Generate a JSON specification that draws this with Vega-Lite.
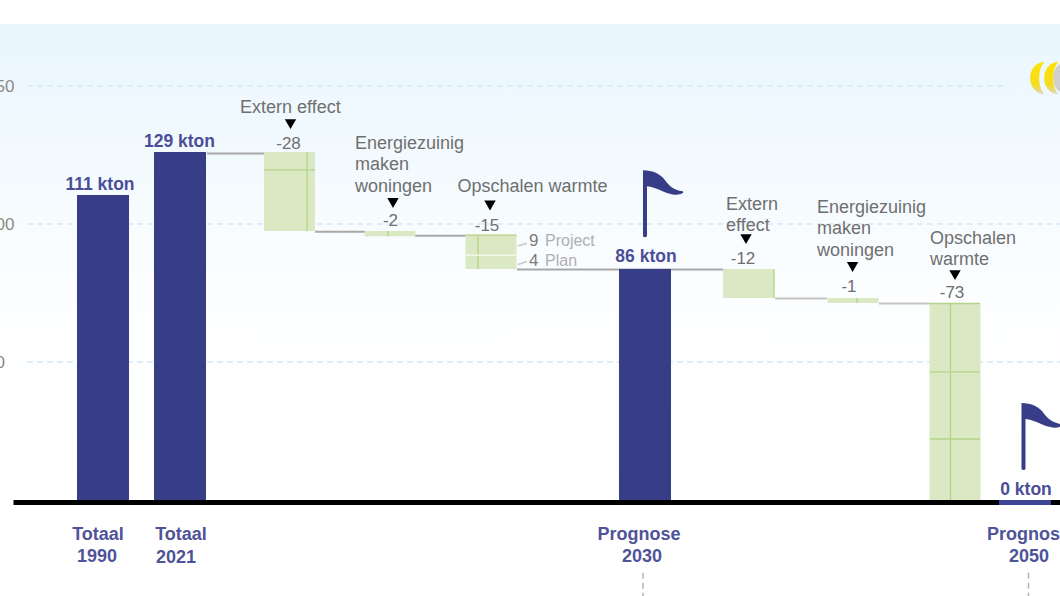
{
"$schema":"https://vega.github.io/schema/vega-lite/v6.json",
"width":1060,"height":596,"padding":0,"autosize":{"type":"none"},
"background":"#ffffff",
"config":{"view":{"stroke":null},"text":{"font":"Liberation Sans"}},
"datasets":{
"panel":[{"slot":0,"slot2":10.6,"val":172.5,"val2":0}],
"grid":[{"slot":0.27,"slot2":10.05,"val":150},{"slot":0.27,"slot2":10.6,"val":100},{"slot":0.27,"slot2":10.6,"val":50}],
"ticks":[{"slot":0.145,"val":150,"label":"150"},{"slot":0.145,"val":100,"label":"100"},{"slot":0.05,"val":50,"label":"50"}],
"totals":[{"slot":1.03,"val":110.5,"val2":0,"name":"Totaal 1990"},{"slot":1.80,"val":126.1,"val2":0,"name":"Totaal 2021"},{"slot":6.45,"val":83.7,"val2":0,"name":"Prognose 2030"}],
"steps":[{"slot":2.895,"val":126.1,"val2":97.5,"name":"Extern effect"},{"slot":3.90,"val":97.5,"val2":95.6,"name":"Energiezuinig maken woningen"},{"slot":4.91,"val":96.1,"val2":83.7,"name":"Opschalen warmte"},{"slot":7.485,"val":83.7,"val2":73.2,"name":"Extern effect"},{"slot":8.53,"val":73.2,"val2":71.4,"name":"Energiezuinig maken woningen"},{"slot":9.55,"val":71.4,"val2":0,"name":"Opschalen warmte"}],
"dividers":[
{"slot":3.07,"slot2":3.07,"val":126.1,"val2":97.5},{"slot":2.64,"slot2":3.15,"val":119.6,"val2":119.6},
{"slot":3.88,"slot2":3.88,"val":97.5,"val2":95.6},
{"slot":4.78,"slot2":4.78,"val":96.1,"val2":83.7},{"slot":4.66,"slot2":5.165,"val":96.0,"val2":96.0},
{"slot":7.74,"slot2":7.74,"val":83.7,"val2":73.2},
{"slot":8.57,"slot2":8.57,"val":73.2,"val2":71.4},
{"slot":9.505,"slot2":9.505,"val":71.4,"val2":0},{"slot":9.30,"slot2":9.80,"val":46.4,"val2":46.4},{"slot":9.30,"slot2":9.80,"val":22.1,"val2":22.1},{"slot":9.30,"slot2":9.80,"val":71.2,"val2":71.2}],
"whiteDivider":[{"slot":4.66,"slot2":5.165,"val":88.7,"val2":88.7}],
"connectors":[{"slot":2.07,"slot2":2.64,"val":125.5},{"slot":3.15,"slot2":3.65,"val":97.2},{"slot":4.15,"slot2":4.66,"val":95.7},{"slot":5.17,"slot2":7.23,"val":83.5}],
"connectorsLight":[{"slot":7.75,"slot2":8.27,"val":73},{"slot":8.79,"slot2":9.30,"val":71.2}],
"baseline":[{"slot":0.135,"slot2":10.6,"val":-0.9}],
"baselineZero":[{"slot":9.99,"slot2":10.51,"val":-0.9}],
"drops":[{"slot":6.43,"val":-26.4,"val2":-34.78},{"slot":10.285,"val":-26.4,"val2":-34.78}],
"notes":[{"slot":2.40,"val":142.4,"label":"Extern effect"},{"slot":3.55,"val":129.3,"label":"Energiezuinig"},{"slot":3.55,"val":121.7,"label":"maken"},{"slot":3.55,"val":113.8,"label":"woningen"},{"slot":4.575,"val":113.8,"label":"Opschalen warmte"},{"slot":7.26,"val":107.2,"label":"Extern"},{"slot":7.26,"val":99.6,"label":"effect"},{"slot":8.17,"val":106.2,"label":"Energiezuinig"},{"slot":8.17,"val":98.6,"label":"maken"},{"slot":8.17,"val":90.6,"label":"woningen"},{"slot":9.30,"val":94.9,"label":"Opschalen"},{"slot":9.30,"val":87.3,"label":"warmte"}],
"deltas":[{"slot":2.885,"val":129.3,"label":"-28"},{"slot":3.905,"val":101.4,"label":"-2"},{"slot":4.87,"val":99.6,"label":"-15"},{"slot":7.43,"val":87.7,"label":"-12"},{"slot":8.49,"val":77.5,"label":"-1"},{"slot":9.52,"val":75.4,"label":"-73"}],
"arrows":[{"slot":2.905,"val":136.2},{"slot":3.93,"val":107.6},{"slot":4.90,"val":106.7},{"slot":7.46,"val":94.5},{"slot":8.526,"val":84.4},{"slot":9.55,"val":81.5}],
"totalLabels":[{"slot":1.0,"val":114.5,"label":"111 kton"},{"slot":1.795,"val":130.1,"label":"129 kton"},{"slot":6.46,"val":88.4,"label":"86 kton"},{"slot":10.26,"val":4.0,"label":"0 kton"}],
"catLabels":[{"slot":0.98,"val":-12.3,"label":"Totaal"},{"slot":0.97,"val":-20.3,"label":"1990"},{"slot":1.81,"val":-12.3,"label":"Totaal"},{"slot":1.76,"val":-20.7,"label":"2021"},{"slot":6.39,"val":-12.3,"label":"Prognose"},{"slot":6.42,"val":-20.3,"label":"2030"},{"slot":10.29,"val":-20.3,"label":"2050"}],
"catLabelsLeft":[{"slot":9.87,"val":-12.3,"label":"Prognose"}],
"splitNums":[{"slot":5.29,"val":94.2,"label":"9"},{"slot":5.29,"val":87.0,"label":"4"}],
"splitNames":[{"slot":5.45,"val":94.2,"label":"Project"},{"slot":5.45,"val":87.0,"label":"Plan"}],
"splitLinks":[{"slot":5.18,"slot2":5.27,"val":92,"val2":93},{"slot":5.18,"slot2":5.27,"val":85.3,"val2":86.4}],
"flags":[{"slot":6.63,"val":107.2},{"slot":10.415,"val":22.8}],
"logoYellow":[{"slot":10.43,"val":152.9},{"slot":10.57,"val":152.9}],
"logoGrey":[{"slot":10.66,"val":152.9}]
},
"encoding":{
"x":{"field":"slot","type":"quantitative","axis":null,"scale":{"domain":[0,10.6],"nice":false,"zero":false,"padding":0}},
"y":{"field":"val","type":"quantitative","axis":null,"scale":{"domain":[-34.78,181.16],"nice":false,"zero":false,"padding":0}}
},
"layer":[
{"data":{"name":"panel"},"mark":{"type":"rect","color":{"gradient":"linear","x1":0,"y1":0,"x2":0,"y2":1,"stops":[{"offset":0,"color":"#e9f6fe"},{"offset":0.3,"color":"#f3fafe"},{"offset":0.6,"color":"#fdfeff"},{"offset":1,"color":"#ffffff"}]}},"encoding":{"x2":{"field":"slot2"},"y2":{"field":"val2"}}},
{"data":{"name":"grid"},"mark":{"type":"rule","color":"#d6e9f8","strokeWidth":1.5,"strokeDash":[6,4]},"encoding":{"x2":{"field":"slot2"}}},
{"data":{"name":"ticks"},"mark":{"type":"text","align":"right","baseline":"middle","fontSize":17,"dy":1,"color":"#8f8a84"},"encoding":{"text":{"field":"label"}}},
{"data":{"name":"connectors"},"mark":{"type":"rule","color":"#a8a8a8","strokeWidth":2},"encoding":{"x2":{"field":"slot2"}}},
{"data":{"name":"connectorsLight"},"mark":{"type":"rule","color":"#c4c4c4","strokeWidth":2},"encoding":{"x2":{"field":"slot2"}}},
{"data":{"name":"totals"},"mark":{"type":"bar","color":"#383d88","width":52},"encoding":{"y2":{"field":"val2"}}},
{"data":{"name":"steps"},"mark":{"type":"bar","color":"#dae8c4","width":51},"encoding":{"y2":{"field":"val2"}}},
{"data":{"name":"dividers"},"mark":{"type":"rule","color":"#b4d488","strokeWidth":1.3},"encoding":{"x2":{"field":"slot2"},"y2":{"field":"val2"}}},
{"data":{"name":"whiteDivider"},"mark":{"type":"rule","color":"#f2f7e8","strokeWidth":1.5},"encoding":{"x2":{"field":"slot2"}}},
{"data":{"name":"baseline"},"mark":{"type":"rule","color":"#000000","strokeWidth":5},"encoding":{"x2":{"field":"slot2"}}},
{"data":{"name":"baselineZero"},"mark":{"type":"rule","color":"#3f4596","strokeWidth":5},"encoding":{"x2":{"field":"slot2"}}},
{"data":{"name":"drops"},"mark":{"type":"rule","color":"#b5b5b5","strokeWidth":1.5,"strokeDash":[6,4]},"encoding":{"y2":{"field":"val2"}}},
{"data":{"name":"splitLinks"},"mark":{"type":"rule","color":"#c8c8c8","strokeWidth":1.5},"encoding":{"x2":{"field":"slot2"},"y2":{"field":"val2"}}},
{"data":{"name":"notes"},"mark":{"type":"text","align":"left","baseline":"middle","fontSize":18,"dy":1,"color":"#6f6f6f"},"encoding":{"text":{"field":"label"}}},
{"data":{"name":"deltas"},"mark":{"type":"text","align":"center","baseline":"middle","fontSize":17,"dy":1,"color":"#6f6f6f"},"encoding":{"text":{"field":"label"}}},
{"data":{"name":"arrows"},"mark":{"type":"point","shape":"triangle-down","filled":true,"color":"#000000","size":130,"opacity":1}},
{"data":{"name":"totalLabels"},"mark":{"type":"text","align":"center","baseline":"middle","fontSize":17.5,"dy":1,"fontWeight":"bold","color":"#4a4e98"},"encoding":{"text":{"field":"label"}}},
{"data":{"name":"catLabels"},"mark":{"type":"text","align":"center","baseline":"middle","fontSize":18,"dy":1,"fontWeight":"bold","color":"#4f5398"},"encoding":{"text":{"field":"label"}}},
{"data":{"name":"catLabelsLeft"},"mark":{"type":"text","align":"left","baseline":"middle","fontSize":18,"dy":1,"fontWeight":"bold","color":"#4f5398"},"encoding":{"text":{"field":"label"}}},
{"data":{"name":"splitNums"},"mark":{"type":"text","align":"left","baseline":"middle","fontSize":17,"dy":1,"color":"#7a7a7a"},"encoding":{"text":{"field":"label"}}},
{"data":{"name":"splitNames"},"mark":{"type":"text","align":"left","baseline":"middle","fontSize":16,"dy":1,"color":"#b0b0b0"},"encoding":{"text":{"field":"label"}}},
{"data":{"name":"flags"},"mark":{"type":"point","filled":true,"opacity":1,"color":"#383d88","size":4624,"shape":"M-.588,-1 C-.294,-1 -.059,-.882 .059,-.706 C.147,-.588 .294,-.412 .588,-.382 L.588,-.324 C.412,-.235 .235,-.265 -.147,-.441 C-.294,-.5 -.412,-.529 -.471,-.529 L-.471,.941 Q-.529,1 -.588,.941 Z"}},
{"data":{"name":"logoGrey"},"mark":{"type":"point","filled":true,"opacity":1,"color":"#cfcfcf","size":1024,"shape":"M.1,-1 C-1.1,-1 -1.1,1 .1,1 C-.35,.6 -.35,-.6 .1,-1 Z"}},
{"data":{"name":"logoYellow"},"mark":{"type":"point","filled":true,"opacity":1,"color":{"gradient":"linear","x1":0,"y1":0,"x2":0,"y2":1,"stops":[{"offset":0,"color":"#ffe100"},{"offset":0.7,"color":"#f6dc20"},{"offset":1,"color":"#dcd9b8"}]},"size":1024,"shape":"M.1,-1 C-1.1,-1 -1.1,1 .1,1 C-.35,.6 -.35,-.6 .1,-1 Z"}}
]
}
